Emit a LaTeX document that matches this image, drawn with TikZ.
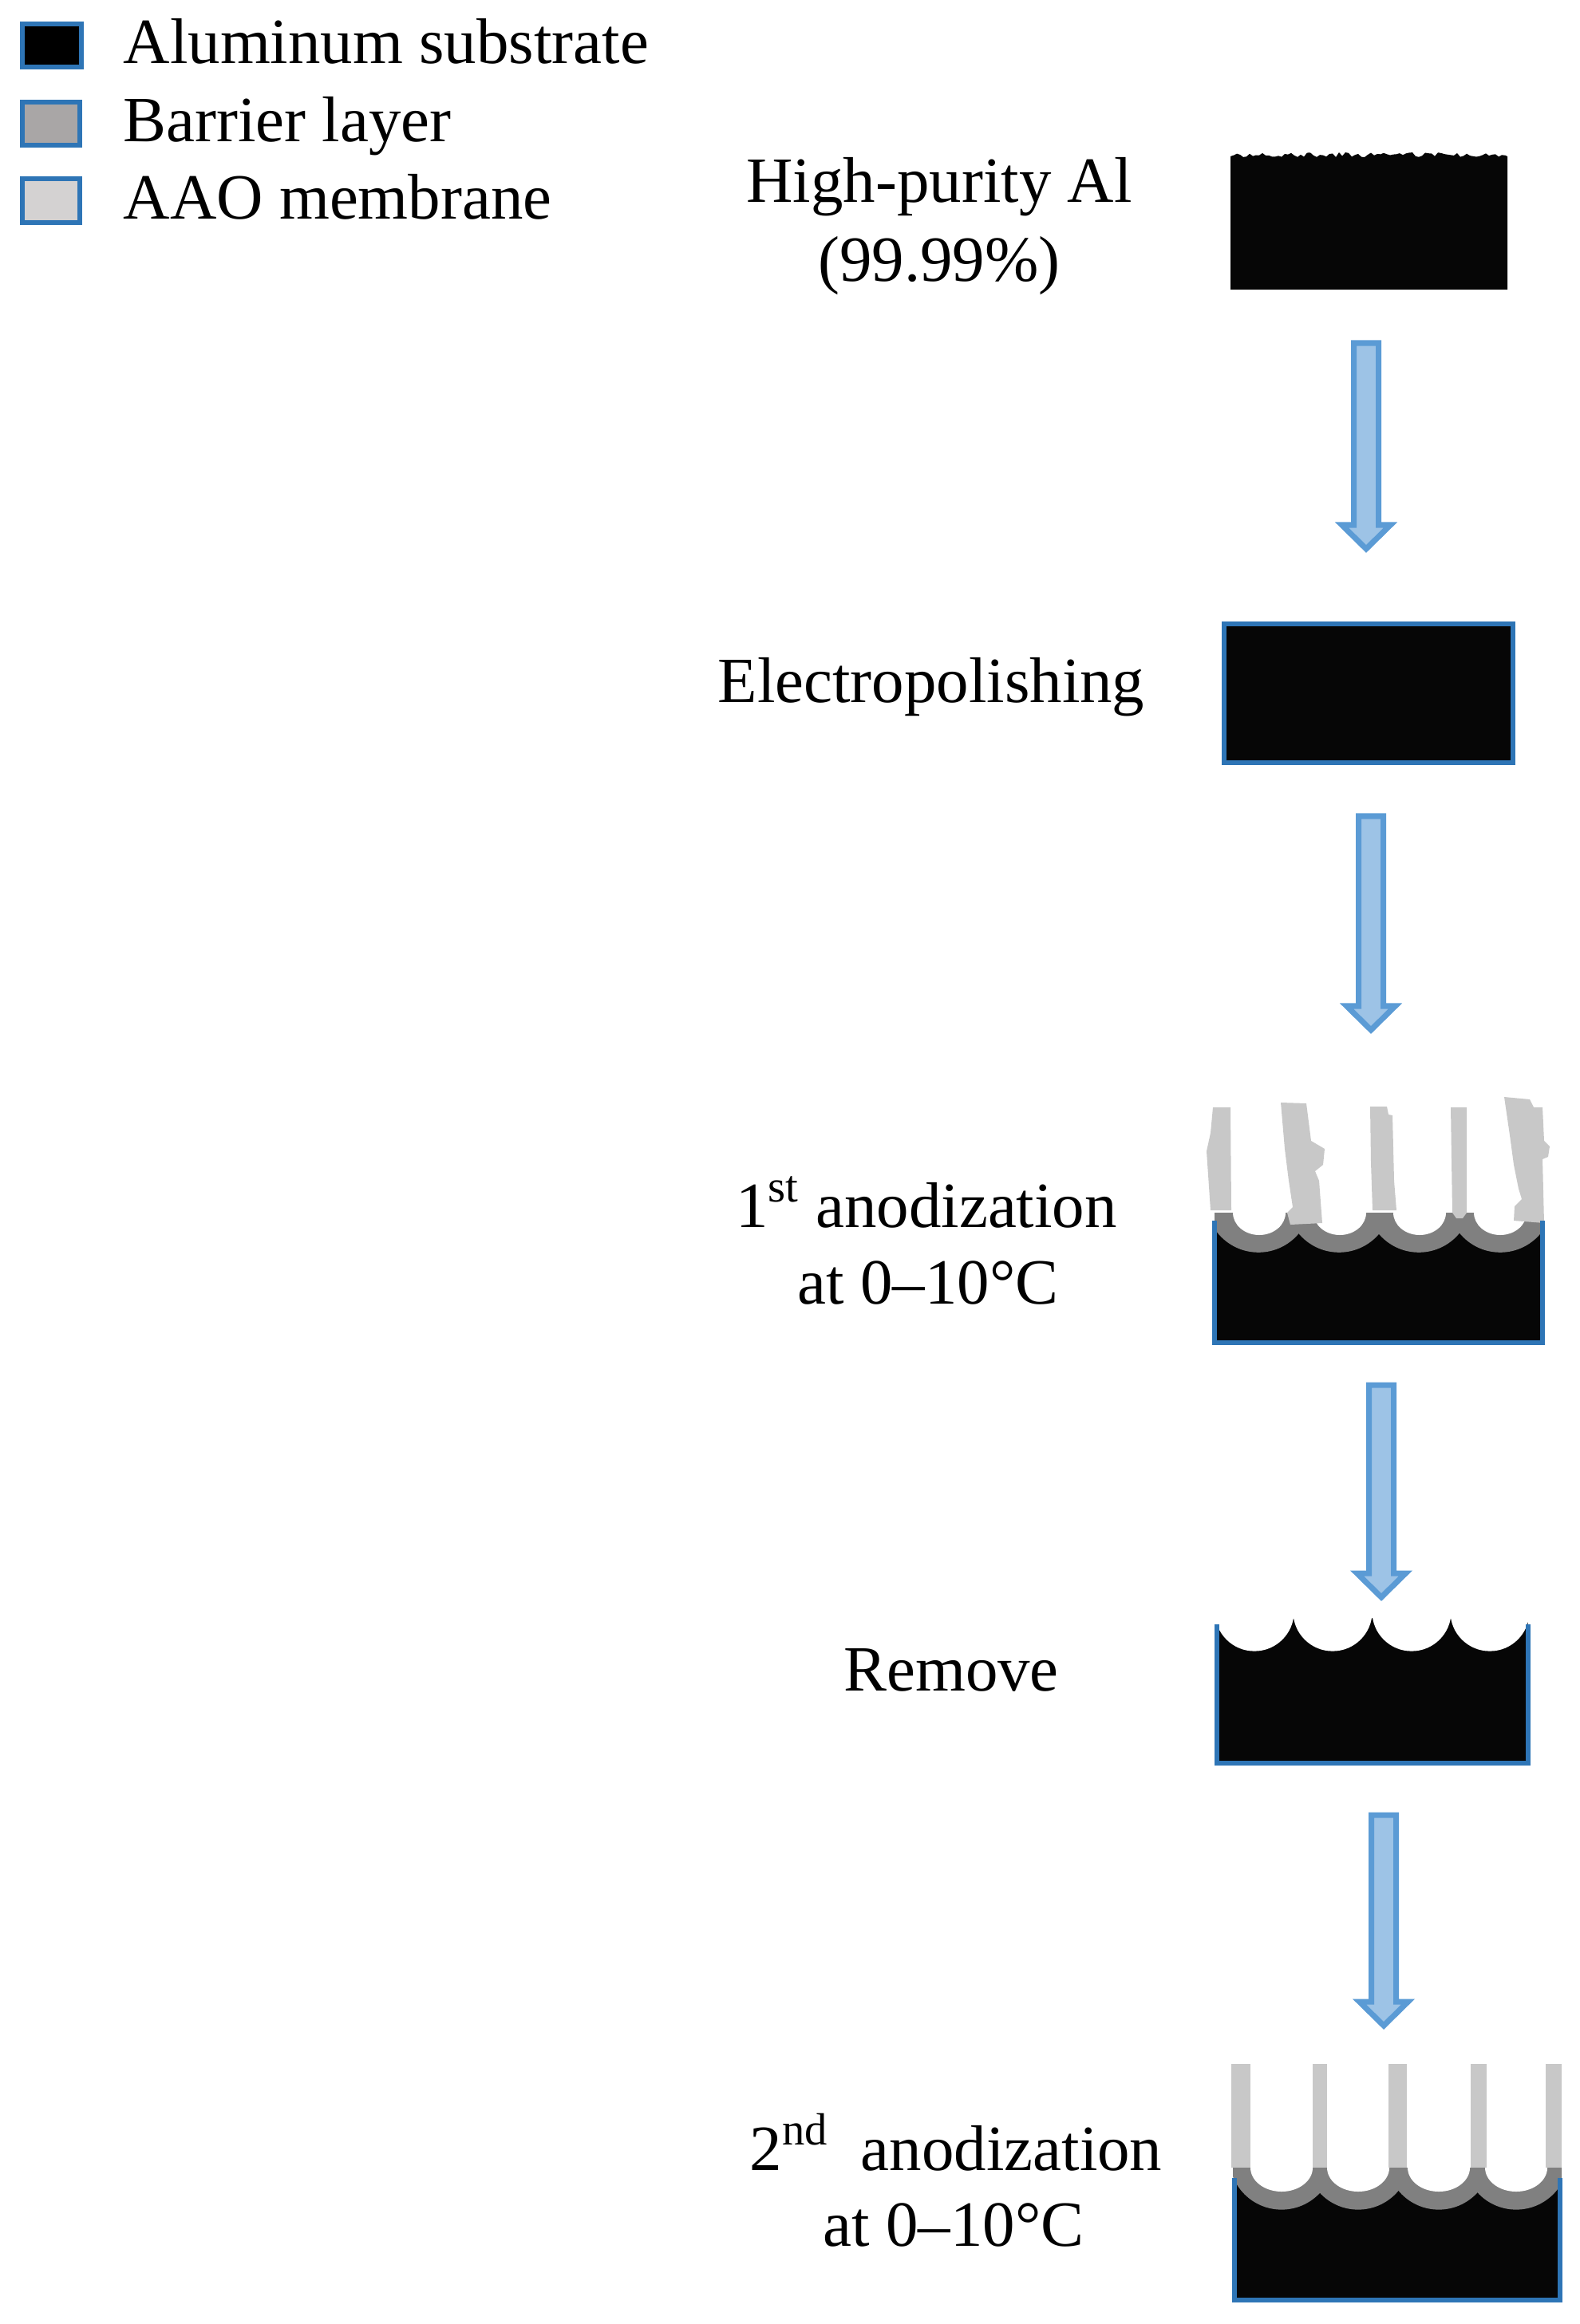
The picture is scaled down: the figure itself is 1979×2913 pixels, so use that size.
\documentclass[tikz,border=0pt]{standalone}
\usepackage{fontspec}
\setmainfont{Liberation Serif}
\begin{document}
\begin{tikzpicture}[x=0.01cm,y=-0.01cm]
\definecolor{alblack}{HTML}{060606}
\definecolor{barrier}{HTML}{808080}
\definecolor{aao}{HTML}{C8C8C8}
\definecolor{legbar}{HTML}{A9A6A6}
\definecolor{legaao}{HTML}{D4D2D2}
\definecolor{edgeblue}{HTML}{2E75B6}
\definecolor{arrowfill}{HTML}{9DC3E6}
\definecolor{arrowline}{HTML}{5B9BD5}
\tikzset{
  lbl/.style={font=\fontsize{23pt}{28pt}\selectfont, anchor=base, inner sep=0pt},
  legtxt/.style={font=\fontsize{23pt}{28pt}\selectfont, anchor=base west, inner sep=0pt},
  legsq/.style={draw=edgeblue, line width=1.5},
  subst/.style={fill=alblack, draw=edgeblue, line width=1.5},
  blk/.style={fill=arrowfill, draw=arrowline, line width=2}
}
\newcommand\blockarrow[3]{\filldraw[blk] ({#1-15.5},#2) -- ({#1+15.5},#2) -- ({#1+15.5},{#3-30}) -- ({#1+30.5},{#3-30}) -- (#1,#3) -- ({#1-30.5},{#3-30}) -- ({#1-15.5},{#3-30}) -- cycle;}
\useasboundingbox (0,0) rectangle (1979,2913);
% legend
\filldraw[legsq, fill=black] (28,30) rectangle (102,84);
\filldraw[legsq, fill=legbar] (28,128) rectangle (100,182);
\filldraw[legsq, fill=legaao] (28,224) rectangle (100,279);
\node[legtxt] (l1) at (154,80) {Aluminum substrate};
\node[legtxt] (l2) at (154,178) {Barrier layer};
\node[legtxt] (l3) at (154,275) {AAO membrane};
% step 1
\node[lbl] (t1a) at (1177,254) {High-purity Al};
\node[lbl] (t1b) at (1177,353) {(99.99\%)};
\pgfmathsetseed{7}
\fill[alblack] (1542,363) -- (1542,196) \foreach \x in {1546,1550,...,1886}{ -- (\x,{194+3*rand}) } -- (1889,196) -- (1889,363) -- cycle;
\blockarrow{1712}{430}{688}
% step 2
\node[lbl] (t2) at (1167,880) {Electropolishing};
\filldraw[subst] (1534,782) rectangle (1896,956);
\blockarrow{1718}{1023}{1291}
% step 3
\node[lbl] (t3a) at (1161,1538) {1\textsuperscript{st} anodization};
\node[lbl] (t3b) at (1163,1634) {at 0–10°C};
\fill[alblack] (1522,1520) rectangle (1933,1683);
\begin{scope}
\clip (1522,1520) rectangle (1933,1700);
\foreach \c in {1577,1678,1778,1880}{\fill[barrier] (\c,1504) circle (65.8);}
\foreach \c in {1578,1679,1779,1880}{\fill[white] (\c,1520) ellipse (33 and 28);}
\end{scope}
\fill[aao] (1520,1388) -- (1542,1388) -- (1543,1517) -- (1517,1517) -- (1512,1443) -- (1517,1420) -- cycle;
\fill[aao] (1605,1382) -- (1637,1383) -- (1643,1430) -- (1660,1440) -- (1658,1460) -- (1648,1468) -- (1653,1480) -- (1657,1533) -- (1617,1535) -- (1613,1520) -- (1620,1513) -- (1615,1480) -- (1610,1440) -- cycle;
\fill[aao] (1717,1387) -- (1738,1387) -- (1740,1397) -- (1745,1398) -- (1747,1480) -- (1750,1517) -- (1720,1517) -- (1718,1457) -- cycle;
\fill[aao] (1818,1388) -- (1838,1388) -- (1838,1520) -- (1833,1527) -- (1825,1527) -- (1820,1520) -- cycle;
\fill[aao] (1885,1375) -- (1917,1378) -- (1922,1388) -- (1933,1388) -- (1935,1430) -- (1942,1437) -- (1940,1450) -- (1933,1453) -- (1935,1533) -- (1897,1530) -- (1898,1512) -- (1907,1503) -- (1903,1490) -- (1897,1460) -- (1892,1423) -- cycle;
\draw[edgeblue, line width=1.5] (1522,1530) -- (1522,1683) -- (1933,1683) -- (1933,1530);
\blockarrow{1731}{1736}{2002}
% step 4
\node[lbl] (t4) at (1192,2119) {Remove};
\begin{scope}
\clip (1525,2028) rectangle (1915,2210);
\fill[alblack] (1525,2028) rectangle (1915,2210);
\foreach \c in {1572,1670,1769,1867}{\fill[white] (\c,2020) circle (49.6);}
\end{scope}
\draw[edgeblue, line width=1.5] (1525,2036) -- (1525,2210) -- (1915,2210) -- (1915,2036);
\blockarrow{1734}{2275}{2539}
% step 5
\node[lbl] (t5a) at (1198,2720) {2\textsuperscript{nd}\ \ anodization};
\node[lbl] (t5b) at (1195,2815) {at 0–10°C};
\fill[alblack] (1547,2717) rectangle (1955,2883);
\begin{scope}
\clip (1545,2717) rectangle (1957,2900);
\foreach \c in {1606,1702,1803,1900}{\fill[barrier] (\c,2704) circle (65.6);}
\foreach \c in {1606,1702,1803,1900}{\fill[white] (\c,2717) ellipse (39 and 30);}
\end{scope}
\foreach \a/\b in {1543/1567,1645/1663,1740/1763,1843/1863,1937/1957}{\fill[aao] (\a,2587) rectangle (\b,2717);}
\draw[edgeblue, line width=1.5] (1547,2730) -- (1547,2883) -- (1955,2883) -- (1955,2730);
\end{tikzpicture}
\end{document}
